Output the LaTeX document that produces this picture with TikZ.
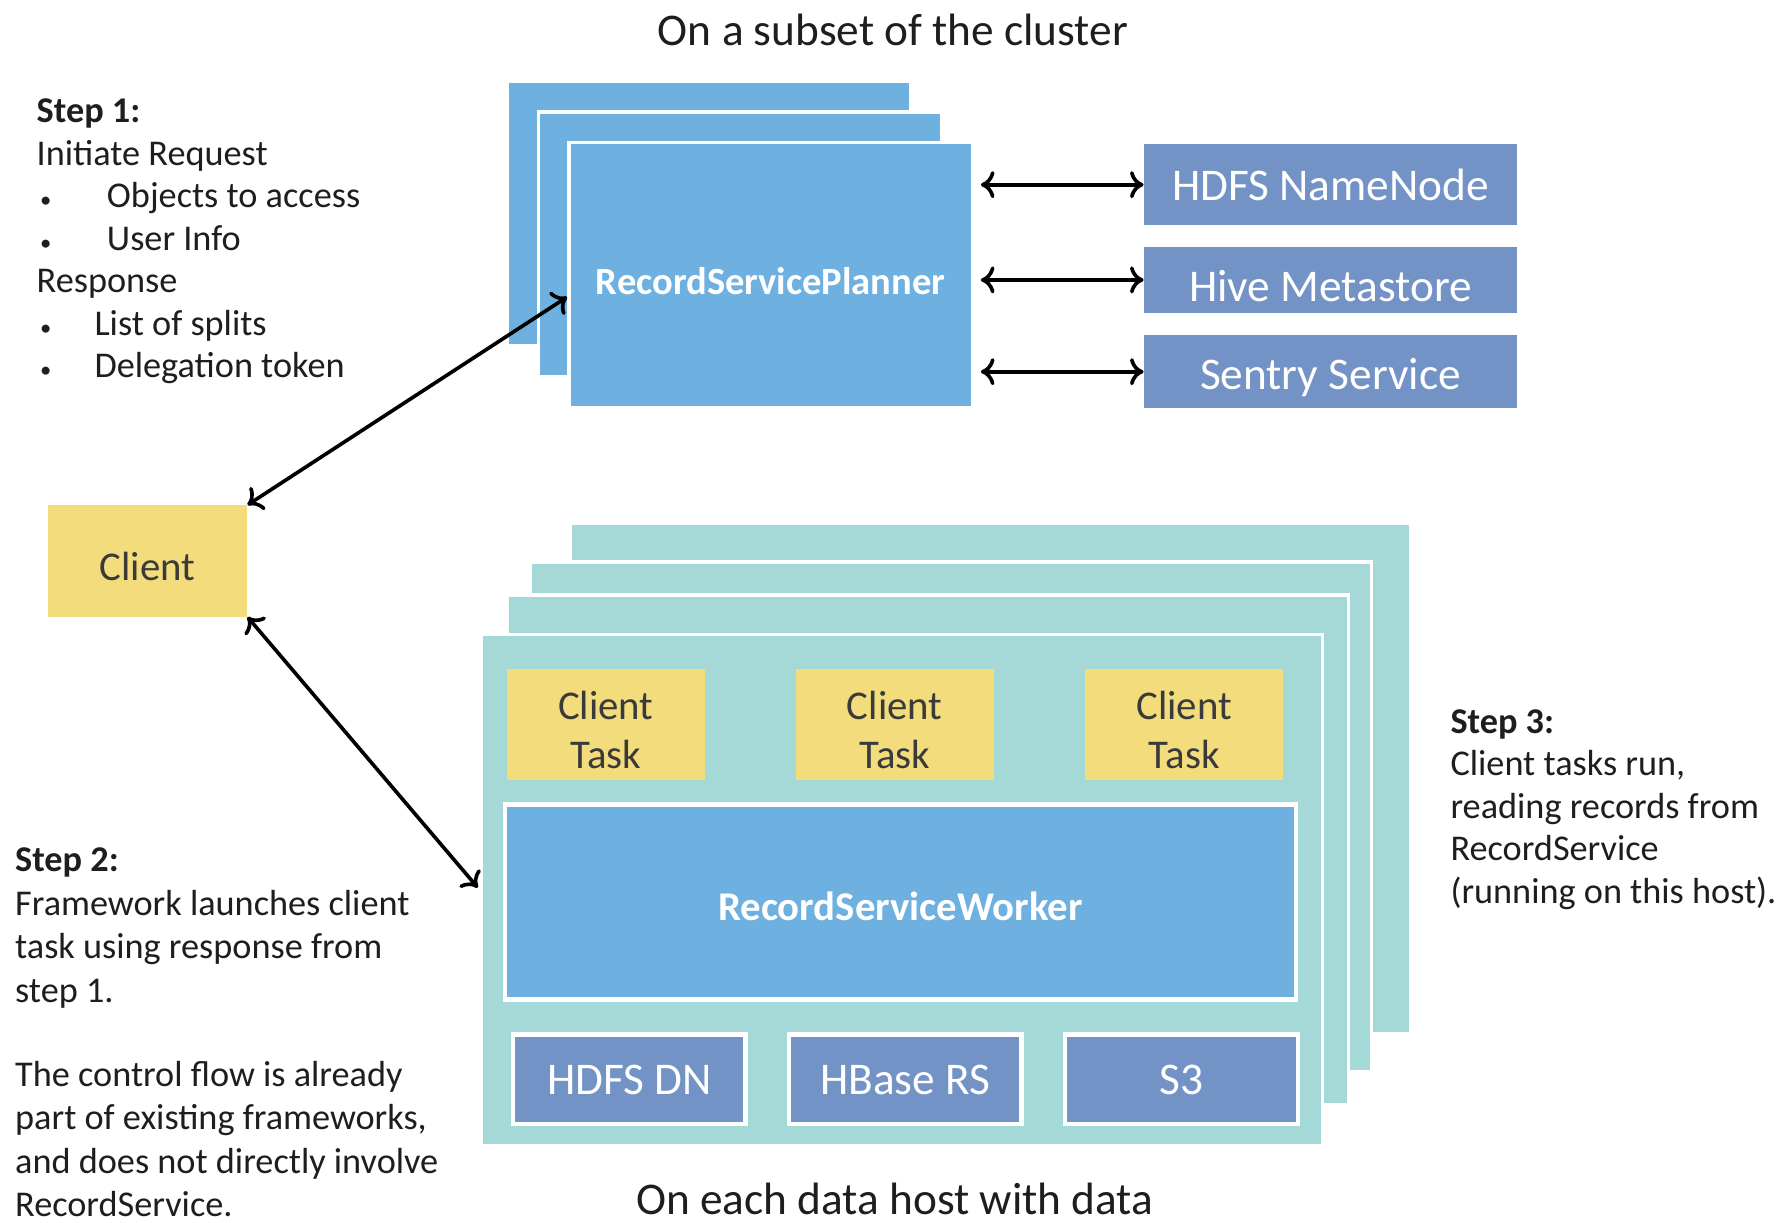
\documentclass[tikz,border=0pt]{standalone}
\usepackage{fontspec}
\setmainfont{Carlito}
\usetikzlibrary{arrows.meta}
\definecolor{plannerblue}{HTML}{6EB1E1}
\definecolor{svcblue}{HTML}{7393C7}
\definecolor{hostteal}{HTML}{A5D9D8}
\definecolor{clientyellow}{HTML}{F3DC7B}
\definecolor{notegray}{HTML}{1E1E1E}
\definecolor{labelgray}{HTML}{3A3A3A}
\newcommand{\headsize}{\fontsize{20pt}{24pt}\selectfont}
\newcommand{\labsize}{\fontsize{18pt}{21.5pt}\selectfont}
\newcommand{\notesize}{\fontsize{16pt}{18.75pt}\selectfont}
\newcommand{\bul}[1]{\makebox[#1][l]{\hspace{1.5pt}{\fontsize{10pt}{10pt}\selectfont\textbullet}}}
\newcommand{\dropbox}[2][2.5pt]{\raisebox{-#1}[\height][\depth]{#2}}
\begin{document}
\begin{tikzpicture}[x=0.5pt,y=-0.5pt,
  sheet/.style={fill=#1,draw=white,line width=1.5pt},
  blk/.style={fill=#1,inner sep=0pt,align=center},
  note/.style={anchor=base west,inner sep=0pt,text=notegray,font=\notesize},
  title/.style={anchor=base,inner sep=0pt,text=notegray,font=\headsize},
  dblarrow/.style={{Computer Modern Rightarrow[length=6pt,width=12pt]}-{Computer Modern Rightarrow[length=6pt,width=12pt]},line width=1.6pt}]
\useasboundingbox (0,0) rectangle (1568,1079);
\node[title] (clustertitle) at (788,40) {On a subset of the cluster};
\node[title] (hosttitle) at (789.5,1072) {On each data host with data};
% planner stack
\foreach \d in {0,27}
  \draw[sheet=plannerblue] (448+\d,72+\d) rectangle ++(356,233);
\node[blk=plannerblue,draw=white,line width=1.5pt,minimum width=178pt,minimum height=117pt,
  text=white,font=\fontsize{17pt}{20pt}\selectfont\bfseries] (planner) at (680,243) {\dropbox{RecordServicePlanner}};
\node[blk=svcblue,minimum width=164.5pt,minimum height=35.75pt,text=white,font=\headsize] (namenode) at (1174,163) {HDFS NameNode};
\node[blk=svcblue,minimum width=164.5pt,minimum height=29pt,text=white,font=\headsize] (metastore) at (1174,247) {\dropbox{Hive Metastore}};
\node[blk=svcblue,minimum width=164.5pt,minimum height=32pt,text=white,font=\headsize] (sentry) at (1174,328) {\dropbox{Sentry Service}};
\foreach \n in {namenode,metastore,sentry}
  \draw[dblarrow,shorten <=3pt] (planner.east |- \n.west) -- (\n.west);
\node[blk=clientyellow,minimum width=88pt,minimum height=49pt,text=labelgray,font=\labsize] (client) at (130,495) {\dropbox{Client}};
% host stack
\foreach \x/\y in {503/462,468/496,448/525}
  \draw[sheet=hostteal] (\x,\y) rectangle ++(742,450);
\node[sheet=hostteal,inner sep=0pt,minimum width=371pt,minimum height=225.5pt] (host) at (796,785.5) {};
\foreach \n/\x in {task1/534.5,task2/789.5,task3/1045}
  \node[blk=clientyellow,minimum width=87.5pt,minimum height=49pt,text=labelgray,font=\labsize] (\n) at (\x,639)
    {\dropbox[4.5pt]{\begin{tabular}{@{}c@{}}Client\\Task\end{tabular}}};
\node[blk=plannerblue,draw=white,line width=2pt,minimum width=349pt,minimum height=86pt,
  text=white,font=\labsize\bfseries] (worker) at (794.5,796) {\dropbox[2pt]{RecordServiceWorker}};
\foreach \n/\x/\t in {datanode/555.3/HDFS DN,hbase/798.8/HBase RS,sthree/1042.5/S3}
  \node[blk=svcblue,draw=white,line width=2pt,minimum width=102.7pt,minimum height=39.5pt,
    text=white,font=\headsize] (\n) at (\x,952.5) {\t};
\draw[dblarrow] (client.north east) -- ([yshift=-9.5pt]planner.west);
\draw[dblarrow,shorten >=1.5pt] (client.south east) -- (host.west);
% steps
\node[note] (step1) at (32,108.5) {\parbox[t]{200pt}{\textbf{Step 1:}\\
  Initiate Request\\
  \bul{31pt}Objects to access\\
  \bul{31pt}User Info\\
  Response\\
  \bul{25.5pt}List of splits\\
  \bul{25.5pt}Delegation token}};
\node[note,font=\fontsize{16pt}{19.2pt}\selectfont] (step2) at (13,769) {\parbox[t]{200pt}{\textbf{Step 2:}\\
  Framework launches client\\
  task using response from\\
  step 1.\\[18pt]
  The control flow is already\\
  part of existing frameworks,\\
  and does not directly involve\\
  RecordService.}};
\node[note] (step3) at (1279.5,647) {\parbox[t]{150pt}{\textbf{Step 3:}\\
  Client tasks run,\\
  reading records from\\
  RecordService\\
  (running on this host).}};
\end{tikzpicture}
\end{document}
